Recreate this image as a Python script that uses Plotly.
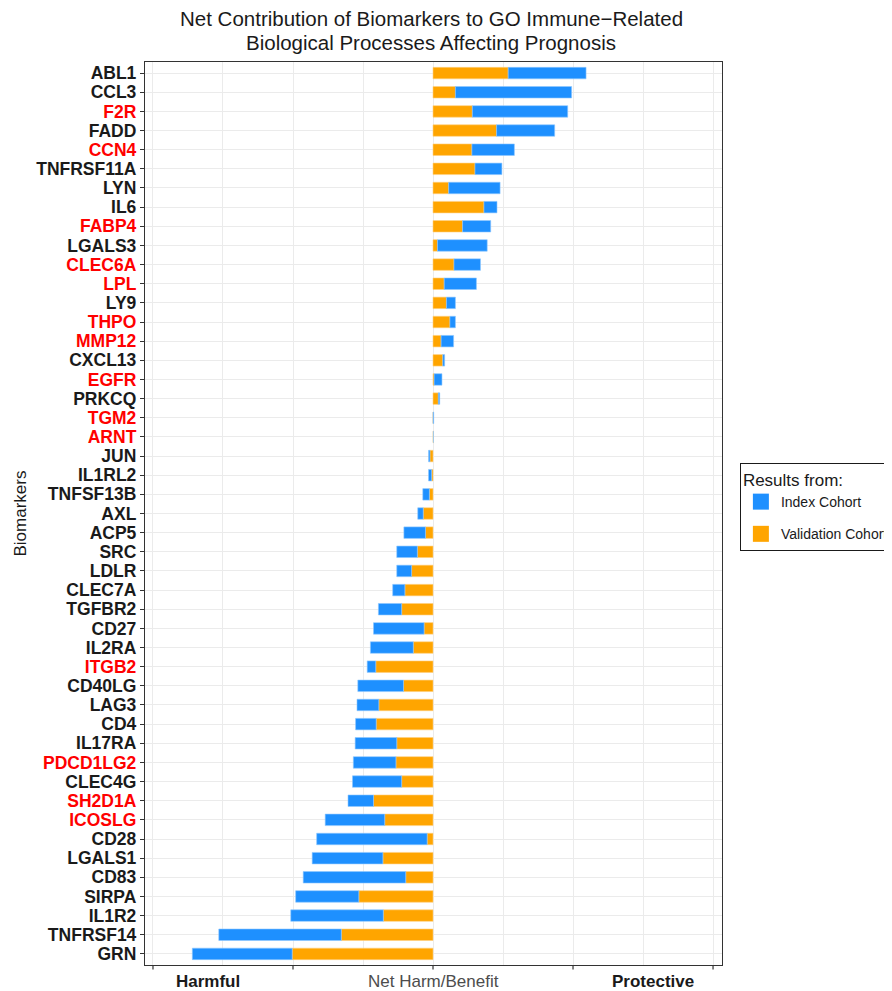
import plotly.graph_objects as go

genes = ["ABL1", "CCL3", "F2R", "FADD", "CCN4", "TNFRSF11A", "LYN", "IL6", "FABP4", "LGALS3",
         "CLEC6A", "LPL", "LY9", "THPO", "MMP12", "CXCL13", "EGFR", "PRKCQ", "TGM2", "ARNT",
         "JUN", "IL1RL2", "TNFSF13B", "AXL", "ACP5", "SRC", "LDLR", "CLEC7A", "TGFBR2", "CD27",
         "IL2RA", "ITGB2", "CD40LG", "LAG3", "CD4", "IL17RA", "PDCD1LG2", "CLEC4G", "SH2D1A",
         "ICOSLG", "CD28", "LGALS1", "CD83", "SIRPA", "IL1R2", "TNFRSF14", "GRN"]

red_genes = ["F2R", "CCN4", "FABP4", "CLEC6A", "LPL", "THPO", "MMP12", "EGFR", "TGM2", "ARNT",
             "ITGB2", "PDCD1LG2", "SH2D1A", "ICOSLG"]

# Validation cohort contribution (orange, adjacent to zero)
validation = [0.537, 0.160, 0.281, 0.454, 0.278, 0.300, 0.112, 0.364, 0.211, 0.032,
              0.150, 0.080, 0.096, 0.121, 0.058, 0.070, 0.008, 0.038, 0.0, 0.003,
              -0.022, -0.010, -0.026, -0.070, -0.054, -0.112, -0.153, -0.201, -0.224, -0.064,
              -0.141, -0.409, -0.211, -0.387, -0.406, -0.259, -0.265, -0.224, -0.425,
              -0.345, -0.042, -0.358, -0.195, -0.530, -0.355, -0.655, -1.006]

# Index cohort contribution (blue, stacked beyond validation)
index = [0.556, 0.830, 0.681, 0.415, 0.303, 0.192, 0.367, 0.093, 0.201, 0.355,
         0.189, 0.230, 0.064, 0.039, 0.089, 0.013, 0.056, 0.010, 0.005, 0.0,
         -0.010, -0.022, -0.047, -0.039, -0.154, -0.147, -0.106, -0.087, -0.166, -0.361,
         -0.306, -0.061, -0.326, -0.156, -0.147, -0.297, -0.304, -0.351, -0.182,
         -0.425, -0.789, -0.505, -0.732, -0.451, -0.661, -0.875, -0.713]

x_tick_positions = [-2, -1, 0, 1, 2]
x_grid_positions = [-2, -1.5, -1, -0.5, 0, 0.5, 1, 1.5, 2]

BLUE = "#1E90FF"
ORANGE = "#FFA500"
INK = "#1a1a1a"

ticktext = [f"<b><span style='color:{'#FF0000' if g in red_genes else INK}'>{g}</span></b>" for g in genes]

fig = go.Figure()
fig.add_trace(go.Bar(y=genes, x=validation, orientation="h", name="Validation Cohort",
                     marker=dict(color=ORANGE, line=dict(width=0.6, color="#FFD080")),
                     width=0.6, showlegend=False))
fig.add_trace(go.Bar(y=genes, x=index, orientation="h", name="Index Cohort",
                     marker=dict(color=BLUE, line=dict(width=0.6, color="#8FC7FF")),
                     width=0.6, showlegend=False))
# legend-only entries with larger square keys
fig.add_trace(go.Scatter(x=[None], y=[None], mode="markers", name="Index Cohort",
                         marker=dict(symbol="square", size=16, color=BLUE),
                         legendgroup="i", legendrank=1))
fig.add_trace(go.Scatter(x=[None], y=[None], mode="markers", name="Validation Cohort",
                         marker=dict(symbol="square", size=16, color=ORANGE),
                         legendgroup="v", legendrank=2))

fig.update_layout(
    template="none",
    width=884, height=983,
    margin=dict(l=137, r=170, t=54, b=26, autoexpand=False),
    barmode="relative",
    plot_bgcolor="white", paper_bgcolor="white",
    font=dict(family="Liberation Sans, Arial, sans-serif", color=INK),
    showlegend=True,
    legend=dict(x=1.031, xanchor="left", y=0.556, yanchor="top",
                bordercolor=INK, borderwidth=1, bgcolor="white",
                title=dict(text="Results from:", font=dict(size=17)),
                font=dict(size=14), traceorder="grouped", tracegroupgap=11,
                itemwidth=30),
    xaxis=dict(range=[-2.057, 2.064], tickvals=x_grid_positions,
               ticktext=[""] * len(x_grid_positions),
               showgrid=True, gridcolor="#ebebeb", gridwidth=1, zeroline=False,
               ticks="", showline=True, mirror=True, linecolor="#333333", linewidth=1.3,
               automargin=False),
    yaxis=dict(categoryorder="array", categoryarray=genes, tickvals=genes, ticktext=ticktext,
               range=[46.58, -0.58], showgrid=True, gridcolor="#ebebeb", gridwidth=1,
               ticks="outside", ticklen=4, tickcolor="#333333",
               tickfont=dict(size=17.5), showline=True, mirror=True, linecolor="#333333",
               linewidth=1.3, automargin=False),
)

# title lines as annotations for precise placement
fig.add_annotation(text="Net Contribution of Biomarkers to GO Immune\u2212Related",
                   xref="paper", yref="paper", x=0.4965, y=1.0487, yanchor="middle",
                   xanchor="center", showarrow=False, font=dict(size=20.5, color=INK))
fig.add_annotation(text="Biological Processes Affecting Prognosis",
                   xref="paper", yref="paper", x=0.4965, y=1.0221, yanchor="middle",
                   xanchor="center", showarrow=False, font=dict(size=20.5, color=INK))

# tick marks at major positions on the bottom axis
for v in x_tick_positions:
    fig.add_shape(type="line", xref="x", yref="paper", x0=v, x1=v, y0=0, y1=-0.005,
                  line=dict(color="#333333", width=1.2))

fig.add_annotation(text="<b>Harmful</b>", xref="x", yref="paper", x=-1.61, y=-0.0185,
                   yanchor="middle", xanchor="center", showarrow=False,
                   font=dict(size=17, color=INK))
fig.add_annotation(text="Net Harm/Benefit", xref="x", yref="paper", x=0, y=-0.0185,
                   yanchor="middle", xanchor="center", showarrow=False,
                   font=dict(size=17, color="#4d4d4d"))
fig.add_annotation(text="<b>Protective</b>", xref="x", yref="paper", x=1.57, y=-0.0185,
                   yanchor="middle", xanchor="center", showarrow=False,
                   font=dict(size=17, color=INK))
fig.add_annotation(text="Biomarkers", xref="paper", yref="paper", x=-0.2166, y=0.5,
                   xanchor="center", yanchor="middle",
                   textangle=-90, showarrow=False, font=dict(size=17, color=INK))

fig.write_html("out.html")
